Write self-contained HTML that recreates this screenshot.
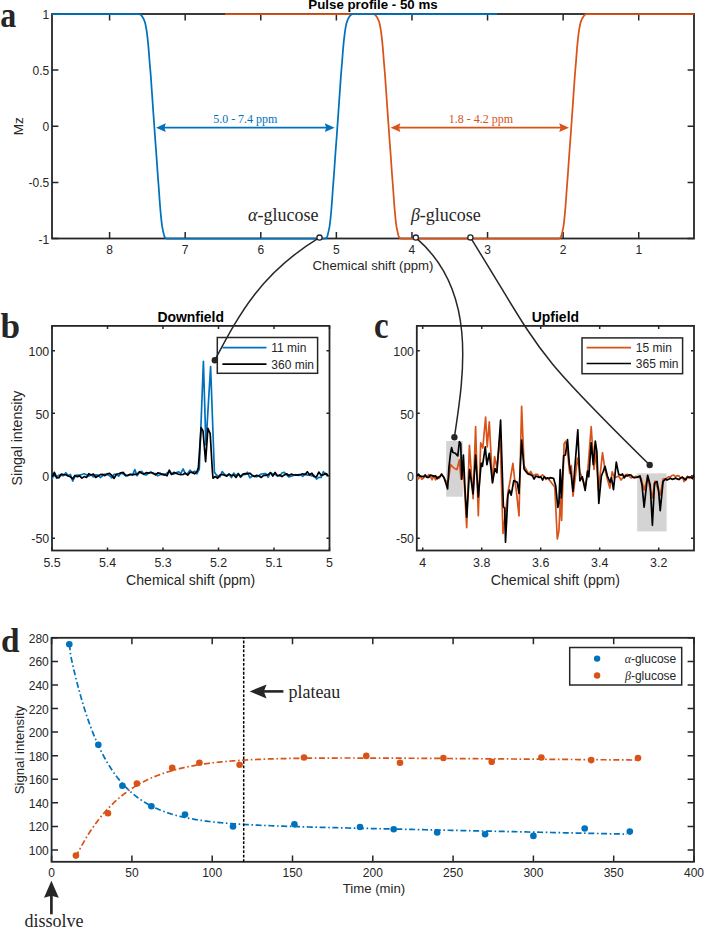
<!DOCTYPE html><html><head><meta charset="utf-8"><style>html,body{margin:0;padding:0;background:#fff;}svg{display:block;}</style></head><body>
<svg width="704" height="928" viewBox="0 0 704 928">
<rect width="704" height="928" fill="#fff"/>
<defs><clipPath id="ca"><rect x="52.0" y="12.0" width="642.0" height="228.5"/></clipPath></defs>
<path d="M109.60,238.50 V232.10 M109.60,14.00 V20.40 M185.19,238.50 V232.10 M185.19,14.00 V20.40 M260.78,238.50 V232.10 M260.78,14.00 V20.40 M336.37,238.50 V232.10 M336.37,14.00 V20.40 M411.96,238.50 V232.10 M411.96,14.00 V20.40 M487.55,238.50 V232.10 M487.55,14.00 V20.40 M563.14,238.50 V232.10 M563.14,14.00 V20.40 M638.73,238.50 V232.10 M638.73,14.00 V20.40 M52.00,14.00 H58.40 M694.00,14.00 H687.60 M52.00,70.12 H58.40 M694.00,70.12 H687.60 M52.00,126.25 H58.40 M694.00,126.25 H687.60 M52.00,182.38 H58.40 M694.00,182.38 H687.60 M52.00,238.50 H58.40 M694.00,238.50 H687.60" stroke="#262626" stroke-width="1.50" fill="none"/>
<rect x="52.00" y="14.00" width="642.00" height="224.50" fill="none" stroke="#262626" stroke-width="1.80"/>
<text x="109.60" y="253.80" font-size="12.00" text-anchor="middle" font-family='"Liberation Sans", sans-serif' font-weight="normal" font-style="normal" fill="#262626" >8</text>
<text x="185.19" y="253.80" font-size="12.00" text-anchor="middle" font-family='"Liberation Sans", sans-serif' font-weight="normal" font-style="normal" fill="#262626" >7</text>
<text x="260.78" y="253.80" font-size="12.00" text-anchor="middle" font-family='"Liberation Sans", sans-serif' font-weight="normal" font-style="normal" fill="#262626" >6</text>
<text x="336.37" y="253.80" font-size="12.00" text-anchor="middle" font-family='"Liberation Sans", sans-serif' font-weight="normal" font-style="normal" fill="#262626" >5</text>
<text x="411.96" y="253.80" font-size="12.00" text-anchor="middle" font-family='"Liberation Sans", sans-serif' font-weight="normal" font-style="normal" fill="#262626" >4</text>
<text x="487.55" y="253.80" font-size="12.00" text-anchor="middle" font-family='"Liberation Sans", sans-serif' font-weight="normal" font-style="normal" fill="#262626" >3</text>
<text x="563.14" y="253.80" font-size="12.00" text-anchor="middle" font-family='"Liberation Sans", sans-serif' font-weight="normal" font-style="normal" fill="#262626" >2</text>
<text x="638.73" y="253.80" font-size="12.00" text-anchor="middle" font-family='"Liberation Sans", sans-serif' font-weight="normal" font-style="normal" fill="#262626" >1</text>
<text x="49.20" y="19.04" font-size="12.00" text-anchor="end" font-family='"Liberation Sans", sans-serif' font-weight="normal" font-style="normal" fill="#262626" >1</text>
<text x="49.20" y="75.17" font-size="12.00" text-anchor="end" font-family='"Liberation Sans", sans-serif' font-weight="normal" font-style="normal" fill="#262626" >0.5</text>
<text x="49.20" y="131.29" font-size="12.00" text-anchor="end" font-family='"Liberation Sans", sans-serif' font-weight="normal" font-style="normal" fill="#262626" >0</text>
<text x="49.20" y="187.41" font-size="12.00" text-anchor="end" font-family='"Liberation Sans", sans-serif' font-weight="normal" font-style="normal" fill="#262626" >-0.5</text>
<text x="49.20" y="243.54" font-size="12.00" text-anchor="end" font-family='"Liberation Sans", sans-serif' font-weight="normal" font-style="normal" fill="#262626" >-1</text>
<polyline fill="none" stroke="#D95319" stroke-width="1.75" stroke-linejoin="round" points="225.00,14.00 225.50,14.00 226.00,14.00 226.50,14.00 227.00,14.00 227.50,14.00 228.00,14.00 228.50,14.00 229.00,14.00 229.50,14.00 230.00,14.00 230.50,14.00 231.00,14.00 231.50,14.00 232.00,14.00 232.50,14.00 233.00,14.00 233.50,14.00 234.00,14.00 234.50,14.00 235.00,14.00 235.50,14.00 236.00,14.00 236.50,14.00 237.00,14.00 237.50,14.00 238.00,14.00 238.50,14.00 239.00,14.00 239.50,14.00 240.00,14.00 240.50,14.00 241.00,14.00 241.50,14.00 242.00,14.00 242.50,14.00 243.00,14.00 243.50,14.00 244.00,14.00 244.50,14.00 245.00,14.00 245.50,14.00 246.00,14.00 246.50,14.00 247.00,14.00 247.50,14.00 248.00,14.00 248.50,14.00 249.00,14.00 249.50,14.00 250.00,14.00 250.50,14.00 251.00,14.00 251.50,14.00 252.00,14.00 252.50,14.00 253.00,14.00 253.50,14.00 254.00,14.00 254.50,14.00 255.00,14.00 255.50,14.00 256.00,14.00 256.50,14.00 257.00,14.00 257.50,14.00 258.00,14.00 258.50,14.00 259.00,14.00 259.50,14.00 260.00,14.00 260.50,14.00 261.00,14.00 261.50,14.00 262.00,14.00 262.50,14.00 263.00,14.00 263.50,14.00 264.00,14.00 264.50,14.00 265.00,14.00 265.50,14.00 266.00,14.00 266.50,14.00 267.00,14.00 267.50,14.00 268.00,14.00 268.50,14.00 269.00,14.00 269.50,14.00 270.00,14.00 270.50,14.00 271.00,14.00 271.50,14.00 272.00,14.00 272.50,14.00 273.00,14.00 273.50,14.00 274.00,14.00 274.50,14.00 275.00,14.00 275.50,14.00 276.00,14.00 276.50,14.00 277.00,14.00 277.50,14.00 278.00,14.00 278.50,14.00 279.00,14.00 279.50,14.00 280.00,14.00 280.50,14.00 281.00,14.00 281.50,14.00 282.00,14.00 282.50,14.00 283.00,14.00 283.50,14.00 284.00,14.00 284.50,14.00 285.00,14.00 285.50,14.00 286.00,14.00 286.50,14.00 287.00,14.00 287.50,14.00 288.00,14.00 288.50,14.00 289.00,14.00 289.50,14.00 290.00,14.00 290.50,14.00 291.00,14.00 291.50,14.00 292.00,14.00 292.50,14.00 293.00,14.00 293.50,14.00 294.00,14.00 294.50,14.00 295.00,14.00 295.50,14.00 296.00,14.00 296.50,14.00 297.00,14.00 297.50,14.00 298.00,14.00 298.50,14.00 299.00,14.00 299.50,14.00 300.00,14.00 300.50,14.00 301.00,14.00 301.50,14.00 302.00,14.00 302.50,14.00 303.00,14.00 303.50,14.00 304.00,14.00 304.50,14.00 305.00,14.00 305.50,14.00 306.00,14.00 306.50,14.00 307.00,14.00 307.50,14.00 308.00,14.00 308.50,14.00 309.00,14.00 309.50,14.00 310.00,14.00 310.50,14.00 311.00,14.00 311.50,14.00 312.00,14.00 312.50,14.00 313.00,14.00 313.50,14.00 314.00,14.00 314.50,14.00 315.00,14.00 315.50,14.00 316.00,14.00 316.50,14.00 317.00,14.00 317.50,14.00 318.00,14.00 318.50,14.00 319.00,14.00 319.50,14.00 320.00,14.00 320.50,14.00 321.00,14.00 321.50,14.00 322.00,14.00 322.50,14.00 323.00,14.00 323.50,14.00 324.00,14.00 324.50,14.00 325.00,14.00 325.50,14.00 326.00,14.00 326.50,14.00 327.00,14.00 327.50,14.00 328.00,14.00 328.50,14.00 329.00,14.00 329.50,14.00 330.00,14.00 330.50,14.00 331.00,14.00 331.50,14.00 332.00,14.00 332.50,14.00 333.00,14.00 333.50,14.00 334.00,14.00 334.50,14.00 335.00,14.00 335.50,14.00 336.00,14.00 336.50,14.00 337.00,14.00 337.50,14.00 338.00,14.00 338.50,14.00 339.00,14.00 339.50,14.00 340.00,14.00 340.50,14.00 341.00,14.00 341.50,14.00 342.00,14.00 342.50,14.00 343.00,14.00 343.50,14.00 344.00,14.00 344.50,14.00 345.00,14.00 345.50,14.00 346.00,14.00 346.50,14.00 347.00,14.00 347.50,14.00 348.00,14.00 348.50,14.00 349.00,14.00 349.50,14.00 350.00,14.00 350.50,14.00 351.00,14.00 351.50,14.00 352.00,14.00 352.50,14.00 353.00,14.00 353.50,14.00 354.00,14.00 354.50,14.00 355.00,14.00 355.50,14.00 356.00,14.00 356.50,14.00 357.00,14.00 357.50,14.00 358.00,14.00 358.50,14.00 359.00,14.00 359.50,14.00 360.00,14.00 360.50,14.00 361.00,14.00 361.50,14.00 362.00,14.00 362.50,14.00 363.00,14.00 363.50,14.00 364.00,14.00 364.50,14.00 365.00,14.00 365.50,14.00 366.00,14.00 366.50,14.00 367.00,14.00 367.50,14.00 368.00,14.00 368.50,14.00 369.00,14.00 369.50,14.00 370.00,14.00 370.50,14.00 371.00,14.00 371.50,14.00 372.00,14.00 372.50,14.00 373.00,14.00 373.50,14.05 374.00,14.22 374.50,14.45 375.00,14.77 375.50,15.25 376.00,15.86 376.50,16.56 377.00,17.33 377.50,18.15 378.00,19.11 378.50,20.26 379.00,21.61 379.50,23.22 380.00,25.44 380.50,28.19 381.00,31.31 381.50,35.07 382.00,39.43 382.50,44.42 383.00,49.97 383.50,56.54 384.00,63.03 384.50,68.75 385.00,74.73 385.50,81.82 386.00,89.19 386.50,96.35 387.00,103.55 387.50,110.81 388.00,117.92 388.50,124.88 389.00,132.24 389.50,139.28 390.00,145.72 390.50,152.33 391.00,159.51 391.50,166.75 392.00,173.98 392.50,180.69 393.00,187.02 393.50,194.00 394.00,201.35 394.50,207.75 395.00,213.52 395.50,218.57 396.00,223.10 396.50,226.66 397.00,229.35 397.50,231.61 398.00,233.72 398.50,235.74 399.00,237.04 399.50,237.70 400.00,238.20 400.50,238.47 401.00,238.50 401.50,238.50 402.00,238.50 402.50,238.50 403.00,238.50 403.50,238.50 404.00,238.50 404.50,238.50 405.00,238.50 405.50,238.50 406.00,238.50 406.50,238.50 407.00,238.50 407.50,238.50 408.00,238.50 408.50,238.50 409.00,238.50 409.50,238.50 410.00,238.50 410.50,238.50 411.00,238.50 411.50,238.50 412.00,238.50 412.50,238.50 413.00,238.50 413.50,238.50 414.00,238.50 414.50,238.50 415.00,238.50 415.50,238.50 416.00,238.50 416.50,238.50 417.00,238.50 417.50,238.50 418.00,238.50 418.50,238.50 419.00,238.50 419.50,238.50 420.00,238.50 420.50,238.50 421.00,238.50 421.50,238.50 422.00,238.50 422.50,238.50 423.00,238.50 423.50,238.50 424.00,238.50 424.50,238.50 425.00,238.50 425.50,238.50 426.00,238.50 426.50,238.50 427.00,238.50 427.50,238.50 428.00,238.50 428.50,238.50 429.00,238.50 429.50,238.50 430.00,238.50 430.50,238.50 431.00,238.50 431.50,238.50 432.00,238.50 432.50,238.50 433.00,238.50 433.50,238.50 434.00,238.50 434.50,238.50 435.00,238.50 435.50,238.50 436.00,238.50 436.50,238.50 437.00,238.50 437.50,238.50 438.00,238.50 438.50,238.50 439.00,238.50 439.50,238.50 440.00,238.50 440.50,238.50 441.00,238.50 441.50,238.50 442.00,238.50 442.50,238.50 443.00,238.50 443.50,238.50 444.00,238.50 444.50,238.50 445.00,238.50 445.50,238.50 446.00,238.50 446.50,238.50 447.00,238.50 447.50,238.50 448.00,238.50 448.50,238.50 449.00,238.50 449.50,238.50 450.00,238.50 450.50,238.50 451.00,238.50 451.50,238.50 452.00,238.50 452.50,238.50 453.00,238.50 453.50,238.50 454.00,238.50 454.50,238.50 455.00,238.50 455.50,238.50 456.00,238.50 456.50,238.50 457.00,238.50 457.50,238.50 458.00,238.50 458.50,238.50 459.00,238.50 459.50,238.50 460.00,238.50 460.50,238.50 461.00,238.50 461.50,238.50 462.00,238.50 462.50,238.50 463.00,238.50 463.50,238.50 464.00,238.50 464.50,238.50 465.00,238.50 465.50,238.50 466.00,238.50 466.50,238.50 467.00,238.50 467.50,238.50 468.00,238.50 468.50,238.50 469.00,238.50 469.50,238.50 470.00,238.50 470.50,238.50 471.00,238.50 471.50,238.50 472.00,238.50 472.50,238.50 473.00,238.50 473.50,238.50 474.00,238.50 474.50,238.50 475.00,238.50 475.50,238.50 476.00,238.50 476.50,238.50 477.00,238.50 477.50,238.50 478.00,238.50 478.50,238.50 479.00,238.50 479.50,238.50 480.00,238.50 480.50,238.50 481.00,238.50 481.50,238.50 482.00,238.50 482.50,238.50 483.00,238.50 483.50,238.50 484.00,238.50 484.50,238.50 485.00,238.50 485.50,238.50 486.00,238.50 486.50,238.50 487.00,238.50 487.50,238.50 488.00,238.50 488.50,238.50 489.00,238.50 489.50,238.50 490.00,238.50 490.50,238.50 491.00,238.50 491.50,238.50 492.00,238.50 492.50,238.50 493.00,238.50 493.50,238.50 494.00,238.50 494.50,238.50 495.00,238.50 495.50,238.50 496.00,238.50 496.50,238.50 497.00,238.50 497.50,238.50 498.00,238.50 498.50,238.50 499.00,238.50 499.50,238.50 500.00,238.50 500.50,238.50 501.00,238.50 501.50,238.50 502.00,238.50 502.50,238.50 503.00,238.50 503.50,238.50 504.00,238.50 504.50,238.50 505.00,238.50 505.50,238.50 506.00,238.50 506.50,238.50 507.00,238.50 507.50,238.50 508.00,238.50 508.50,238.50 509.00,238.50 509.50,238.50 510.00,238.50 510.50,238.50 511.00,238.50 511.50,238.50 512.00,238.50 512.50,238.50 513.00,238.50 513.50,238.50 514.00,238.50 514.50,238.50 515.00,238.50 515.50,238.50 516.00,238.50 516.50,238.50 517.00,238.50 517.50,238.50 518.00,238.50 518.50,238.50 519.00,238.50 519.50,238.50 520.00,238.50 520.50,238.50 521.00,238.50 521.50,238.50 522.00,238.50 522.50,238.50 523.00,238.50 523.50,238.50 524.00,238.50 524.50,238.50 525.00,238.50 525.50,238.50 526.00,238.50 526.50,238.50 527.00,238.50 527.50,238.50 528.00,238.50 528.50,238.50 529.00,238.50 529.50,238.50 530.00,238.50 530.50,238.50 531.00,238.50 531.50,238.50 532.00,238.50 532.50,238.50 533.00,238.50 533.50,238.50 534.00,238.50 534.50,238.50 535.00,238.50 535.50,238.50 536.00,238.50 536.50,238.50 537.00,238.50 537.50,238.50 538.00,238.50 538.50,238.50 539.00,238.50 539.50,238.50 540.00,238.50 540.50,238.50 541.00,238.50 541.50,238.50 542.00,238.50 542.50,238.50 543.00,238.50 543.50,238.50 544.00,238.50 544.50,238.50 545.00,238.50 545.50,238.50 546.00,238.50 546.50,238.50 547.00,238.50 547.50,238.50 548.00,238.50 548.50,238.50 549.00,238.50 549.50,238.50 550.00,238.50 550.50,238.50 551.00,238.50 551.50,238.50 552.00,238.50 552.50,238.50 553.00,238.50 553.50,238.50 554.00,238.50 554.50,238.50 555.00,238.50 555.50,238.50 556.00,238.50 556.50,238.50 557.00,238.50 557.50,238.50 558.00,238.50 558.50,238.50 559.00,238.50 559.50,238.44 560.00,238.12 560.50,237.58 561.00,236.87 561.50,235.37 562.00,233.28 562.50,231.18 563.00,228.86 563.50,226.04 564.00,222.26 564.50,217.59 565.00,212.43 565.50,206.52 566.00,199.95 566.50,192.52 567.00,185.73 567.50,179.41 568.00,172.56 568.50,165.30 569.00,158.05 569.50,150.94 570.00,144.45 570.50,137.92 571.00,130.77 571.50,123.49 572.00,116.51 572.50,109.37 573.00,102.10 573.50,94.92 574.00,87.75 574.50,80.34 575.00,73.45 575.50,67.62 576.00,61.82 576.50,55.18 577.00,48.80 577.50,43.37 578.00,38.50 578.50,34.27 579.00,30.64 579.50,27.61 580.00,24.94 580.50,22.87 581.00,21.32 581.50,20.01 582.00,18.91 582.50,17.98 583.00,17.17 583.50,16.41 584.00,15.73 584.50,15.15 585.00,14.70 585.50,14.40 586.00,14.18 586.50,14.03 587.00,14.00 587.50,14.00 588.00,14.00 588.50,14.00 589.00,14.00 589.50,14.00 590.00,14.00 590.50,14.00 591.00,14.00 591.50,14.00 592.00,14.00 592.50,14.00 593.00,14.00 593.50,14.00 594.00,14.00 594.50,14.00 595.00,14.00 595.50,14.00 596.00,14.00 596.50,14.00 597.00,14.00 597.50,14.00 598.00,14.00 598.50,14.00 599.00,14.00 599.50,14.00 600.00,14.00 600.50,14.00 601.00,14.00 601.50,14.00 602.00,14.00 602.50,14.00 603.00,14.00 603.50,14.00 604.00,14.00 604.50,14.00 605.00,14.00 605.50,14.00 606.00,14.00 606.50,14.00 607.00,14.00 607.50,14.00 608.00,14.00 608.50,14.00 609.00,14.00 609.50,14.00 610.00,14.00 610.50,14.00 611.00,14.00 611.50,14.00 612.00,14.00 612.50,14.00 613.00,14.00 613.50,14.00 614.00,14.00 614.50,14.00 615.00,14.00 615.50,14.00 616.00,14.00 616.50,14.00 617.00,14.00 617.50,14.00 618.00,14.00 618.50,14.00 619.00,14.00 619.50,14.00 620.00,14.00 620.50,14.00 621.00,14.00 621.50,14.00 622.00,14.00 622.50,14.00 623.00,14.00 623.50,14.00 624.00,14.00 624.50,14.00 625.00,14.00 625.50,14.00 626.00,14.00 626.50,14.00 627.00,14.00 627.50,14.00 628.00,14.00 628.50,14.00 629.00,14.00 629.50,14.00 630.00,14.00 630.50,14.00 631.00,14.00 631.50,14.00 632.00,14.00 632.50,14.00 633.00,14.00 633.50,14.00 634.00,14.00 634.50,14.00 635.00,14.00 635.50,14.00 636.00,14.00 636.50,14.00 637.00,14.00 637.50,14.00 638.00,14.00 638.50,14.00 639.00,14.00 639.50,14.00 640.00,14.00 640.50,14.00 641.00,14.00 641.50,14.00 642.00,14.00 642.50,14.00 643.00,14.00 643.50,14.00 644.00,14.00 644.50,14.00 645.00,14.00 645.50,14.00 646.00,14.00 646.50,14.00 647.00,14.00 647.50,14.00 648.00,14.00 648.50,14.00 649.00,14.00 649.50,14.00 650.00,14.00 650.50,14.00 651.00,14.00 651.50,14.00 652.00,14.00 652.50,14.00 653.00,14.00 653.50,14.00 654.00,14.00 654.50,14.00 655.00,14.00 655.50,14.00 656.00,14.00 656.50,14.00 657.00,14.00 657.50,14.00 658.00,14.00 658.50,14.00 659.00,14.00 659.50,14.00 660.00,14.00 660.50,14.00 661.00,14.00 661.50,14.00 662.00,14.00 662.50,14.00 663.00,14.00 663.50,14.00 664.00,14.00 664.50,14.00 665.00,14.00 665.50,14.00 666.00,14.00 666.50,14.00 667.00,14.00 667.50,14.00 668.00,14.00 668.50,14.00 669.00,14.00 669.50,14.00 670.00,14.00 670.50,14.00 671.00,14.00 671.50,14.00 672.00,14.00 672.50,14.00 673.00,14.00 673.50,14.00 674.00,14.00 674.50,14.00 675.00,14.00 675.50,14.00 676.00,14.00 676.50,14.00 677.00,14.00 677.50,14.00 678.00,14.00 678.50,14.00 679.00,14.00 679.50,14.00 680.00,14.00 680.50,14.00 681.00,14.00 681.50,14.00 682.00,14.00 682.50,14.00 683.00,14.00 683.50,14.00 684.00,14.00 684.50,14.00 685.00,14.00 685.50,14.00 686.00,14.00 686.50,14.00 687.00,14.00 687.50,14.00 688.00,14.00 688.50,14.00 689.00,14.00 689.50,14.00 690.00,14.00 690.50,14.00 691.00,14.00 691.50,14.00 692.00,14.00 692.50,14.00 693.00,14.00 693.50,14.00 694.00,14.00" clip-path="url(#ca)"/>
<polyline fill="none" stroke="#0072BD" stroke-width="1.75" stroke-linejoin="round" points="52.00,14.00 52.50,14.00 53.00,14.00 53.50,14.00 54.00,14.00 54.50,14.00 55.00,14.00 55.50,14.00 56.00,14.00 56.50,14.00 57.00,14.00 57.50,14.00 58.00,14.00 58.50,14.00 59.00,14.00 59.50,14.00 60.00,14.00 60.50,14.00 61.00,14.00 61.50,14.00 62.00,14.00 62.50,14.00 63.00,14.00 63.50,14.00 64.00,14.00 64.50,14.00 65.00,14.00 65.50,14.00 66.00,14.00 66.50,14.00 67.00,14.00 67.50,14.00 68.00,14.00 68.50,14.00 69.00,14.00 69.50,14.00 70.00,14.00 70.50,14.00 71.00,14.00 71.50,14.00 72.00,14.00 72.50,14.00 73.00,14.00 73.50,14.00 74.00,14.00 74.50,14.00 75.00,14.00 75.50,14.00 76.00,14.00 76.50,14.00 77.00,14.00 77.50,14.00 78.00,14.00 78.50,14.00 79.00,14.00 79.50,14.00 80.00,14.00 80.50,14.00 81.00,14.00 81.50,14.00 82.00,14.00 82.50,14.00 83.00,14.00 83.50,14.00 84.00,14.00 84.50,14.00 85.00,14.00 85.50,14.00 86.00,14.00 86.50,14.00 87.00,14.00 87.50,14.00 88.00,14.00 88.50,14.00 89.00,14.00 89.50,14.00 90.00,14.00 90.50,14.00 91.00,14.00 91.50,14.00 92.00,14.00 92.50,14.00 93.00,14.00 93.50,14.00 94.00,14.00 94.50,14.00 95.00,14.00 95.50,14.00 96.00,14.00 96.50,14.00 97.00,14.00 97.50,14.00 98.00,14.00 98.50,14.00 99.00,14.00 99.50,14.00 100.00,14.00 100.50,14.00 101.00,14.00 101.50,14.00 102.00,14.00 102.50,14.00 103.00,14.00 103.50,14.00 104.00,14.00 104.50,14.00 105.00,14.00 105.50,14.00 106.00,14.00 106.50,14.00 107.00,14.00 107.50,14.00 108.00,14.00 108.50,14.00 109.00,14.00 109.50,14.00 110.00,14.00 110.50,14.00 111.00,14.00 111.50,14.00 112.00,14.00 112.50,14.00 113.00,14.00 113.50,14.00 114.00,14.00 114.50,14.00 115.00,14.00 115.50,14.00 116.00,14.00 116.50,14.00 117.00,14.00 117.50,14.00 118.00,14.00 118.50,14.00 119.00,14.00 119.50,14.00 120.00,14.00 120.50,14.00 121.00,14.00 121.50,14.00 122.00,14.00 122.50,14.00 123.00,14.00 123.50,14.00 124.00,14.00 124.50,14.00 125.00,14.00 125.50,14.00 126.00,14.00 126.50,14.00 127.00,14.00 127.50,14.00 128.00,14.00 128.50,14.00 129.00,14.00 129.50,14.00 130.00,14.00 130.50,14.00 131.00,14.00 131.50,14.00 132.00,14.00 132.50,14.00 133.00,14.00 133.50,14.00 134.00,14.00 134.50,14.00 135.00,14.00 135.50,14.00 136.00,14.00 136.50,14.00 137.00,14.00 137.50,14.00 138.00,14.00 138.50,14.00 139.00,14.01 139.50,14.14 140.00,14.35 140.50,14.62 141.00,15.04 141.50,15.60 142.00,16.27 142.50,17.02 143.00,17.82 143.50,18.71 144.00,19.78 144.50,21.04 145.00,22.54 145.50,24.47 146.00,27.05 146.50,29.99 147.00,33.49 147.50,37.60 148.00,42.35 148.50,47.67 149.00,53.83 149.50,60.56 150.00,66.50 150.50,72.23 151.00,78.88 151.50,86.29 152.00,93.49 152.50,100.66 153.00,107.92 153.50,115.10 154.00,122.11 154.50,129.28 155.00,136.53 155.50,143.18 156.00,149.60 156.50,156.60 157.00,163.85 157.50,171.12 158.00,178.10 158.50,184.47 159.00,191.07 159.50,198.49 160.00,205.26 160.50,211.30 161.00,216.60 161.50,221.38 162.00,225.38 162.50,228.34 163.00,230.74 163.50,232.86 164.00,234.98 164.50,236.65 165.00,237.45 165.50,238.02 166.00,238.40 166.50,238.50 167.00,238.50 167.50,238.50 168.00,238.50 168.50,238.50 169.00,238.50 169.50,238.50 170.00,238.50 170.50,238.50 171.00,238.50 171.50,238.50 172.00,238.50 172.50,238.50 173.00,238.50 173.50,238.50 174.00,238.50 174.50,238.50 175.00,238.50 175.50,238.50 176.00,238.50 176.50,238.50 177.00,238.50 177.50,238.50 178.00,238.50 178.50,238.50 179.00,238.50 179.50,238.50 180.00,238.50 180.50,238.50 181.00,238.50 181.50,238.50 182.00,238.50 182.50,238.50 183.00,238.50 183.50,238.50 184.00,238.50 184.50,238.50 185.00,238.50 185.50,238.50 186.00,238.50 186.50,238.50 187.00,238.50 187.50,238.50 188.00,238.50 188.50,238.50 189.00,238.50 189.50,238.50 190.00,238.50 190.50,238.50 191.00,238.50 191.50,238.50 192.00,238.50 192.50,238.50 193.00,238.50 193.50,238.50 194.00,238.50 194.50,238.50 195.00,238.50 195.50,238.50 196.00,238.50 196.50,238.50 197.00,238.50 197.50,238.50 198.00,238.50 198.50,238.50 199.00,238.50 199.50,238.50 200.00,238.50 200.50,238.50 201.00,238.50 201.50,238.50 202.00,238.50 202.50,238.50 203.00,238.50 203.50,238.50 204.00,238.50 204.50,238.50 205.00,238.50 205.50,238.50 206.00,238.50 206.50,238.50 207.00,238.50 207.50,238.50 208.00,238.50 208.50,238.50 209.00,238.50 209.50,238.50 210.00,238.50 210.50,238.50 211.00,238.50 211.50,238.50 212.00,238.50 212.50,238.50 213.00,238.50 213.50,238.50 214.00,238.50 214.50,238.50 215.00,238.50 215.50,238.50 216.00,238.50 216.50,238.50 217.00,238.50 217.50,238.50 218.00,238.50 218.50,238.50 219.00,238.50 219.50,238.50 220.00,238.50 220.50,238.50 221.00,238.50 221.50,238.50 222.00,238.50 222.50,238.50 223.00,238.50 223.50,238.50 224.00,238.50 224.50,238.50 225.00,238.50 225.50,238.50 226.00,238.50 226.50,238.50 227.00,238.50 227.50,238.50 228.00,238.50 228.50,238.50 229.00,238.50 229.50,238.50 230.00,238.50 230.50,238.50 231.00,238.50 231.50,238.50 232.00,238.50 232.50,238.50 233.00,238.50 233.50,238.50 234.00,238.50 234.50,238.50 235.00,238.50 235.50,238.50 236.00,238.50 236.50,238.50 237.00,238.50 237.50,238.50 238.00,238.50 238.50,238.50 239.00,238.50 239.50,238.50 240.00,238.50 240.50,238.50 241.00,238.50 241.50,238.50 242.00,238.50 242.50,238.50 243.00,238.50 243.50,238.50 244.00,238.50 244.50,238.50 245.00,238.50 245.50,238.50 246.00,238.50 246.50,238.50 247.00,238.50 247.50,238.50 248.00,238.50 248.50,238.50 249.00,238.50 249.50,238.50 250.00,238.50 250.50,238.50 251.00,238.50 251.50,238.50 252.00,238.50 252.50,238.50 253.00,238.50 253.50,238.50 254.00,238.50 254.50,238.50 255.00,238.50 255.50,238.50 256.00,238.50 256.50,238.50 257.00,238.50 257.50,238.50 258.00,238.50 258.50,238.50 259.00,238.50 259.50,238.50 260.00,238.50 260.50,238.50 261.00,238.50 261.50,238.50 262.00,238.50 262.50,238.50 263.00,238.50 263.50,238.50 264.00,238.50 264.50,238.50 265.00,238.50 265.50,238.50 266.00,238.50 266.50,238.50 267.00,238.50 267.50,238.50 268.00,238.50 268.50,238.50 269.00,238.50 269.50,238.50 270.00,238.50 270.50,238.50 271.00,238.50 271.50,238.50 272.00,238.50 272.50,238.50 273.00,238.50 273.50,238.50 274.00,238.50 274.50,238.50 275.00,238.50 275.50,238.50 276.00,238.50 276.50,238.50 277.00,238.50 277.50,238.50 278.00,238.50 278.50,238.50 279.00,238.50 279.50,238.50 280.00,238.50 280.50,238.50 281.00,238.50 281.50,238.50 282.00,238.50 282.50,238.50 283.00,238.50 283.50,238.50 284.00,238.50 284.50,238.50 285.00,238.50 285.50,238.50 286.00,238.50 286.50,238.50 287.00,238.50 287.50,238.50 288.00,238.50 288.50,238.50 289.00,238.50 289.50,238.50 290.00,238.50 290.50,238.50 291.00,238.50 291.50,238.50 292.00,238.50 292.50,238.50 293.00,238.50 293.50,238.50 294.00,238.50 294.50,238.50 295.00,238.50 295.50,238.50 296.00,238.50 296.50,238.50 297.00,238.50 297.50,238.50 298.00,238.50 298.50,238.50 299.00,238.50 299.50,238.50 300.00,238.50 300.50,238.50 301.00,238.50 301.50,238.50 302.00,238.50 302.50,238.50 303.00,238.50 303.50,238.50 304.00,238.50 304.50,238.50 305.00,238.50 305.50,238.50 306.00,238.50 306.50,238.50 307.00,238.50 307.50,238.50 308.00,238.50 308.50,238.50 309.00,238.50 309.50,238.50 310.00,238.50 310.50,238.50 311.00,238.50 311.50,238.50 312.00,238.50 312.50,238.50 313.00,238.50 313.50,238.50 314.00,238.50 314.50,238.50 315.00,238.50 315.50,238.50 316.00,238.50 316.50,238.50 317.00,238.50 317.50,238.50 318.00,238.50 318.50,238.50 319.00,238.50 319.50,238.50 320.00,238.50 320.50,238.50 321.00,238.50 321.50,238.50 322.00,238.50 322.50,238.50 323.00,238.50 323.50,238.50 324.00,238.50 324.50,238.50 325.00,238.50 325.50,238.47 326.00,238.20 326.50,237.70 327.00,237.04 327.50,235.74 328.00,233.72 328.50,231.61 329.00,229.35 329.50,226.66 330.00,223.10 330.50,218.57 331.00,213.52 331.50,207.75 332.00,201.35 332.50,194.00 333.00,187.02 333.50,180.69 334.00,173.98 334.50,166.75 335.00,159.51 335.50,152.33 336.00,145.72 336.50,139.28 337.00,132.24 337.50,124.88 338.00,117.92 338.50,110.81 339.00,103.55 339.50,96.35 340.00,89.19 340.50,81.82 341.00,74.73 341.50,68.75 342.00,63.03 342.50,56.54 343.00,49.97 343.50,44.42 344.00,39.43 344.50,35.07 345.00,31.31 345.50,28.19 346.00,25.44 346.50,23.22 347.00,21.61 347.50,20.26 348.00,19.11 348.50,18.15 349.00,17.33 349.50,16.56 350.00,15.86 350.50,15.25 351.00,14.77 351.50,14.45 352.00,14.22 352.50,14.05 353.00,14.00 353.50,14.00 354.00,14.00 354.50,14.00 355.00,14.00 355.50,14.00 356.00,14.00 356.50,14.00 357.00,14.00 357.50,14.00 358.00,14.00 358.50,14.00 359.00,14.00 359.50,14.00 360.00,14.00 360.50,14.00 361.00,14.00 361.50,14.00 362.00,14.00 362.50,14.00 363.00,14.00 363.50,14.00 364.00,14.00 364.50,14.00 365.00,14.00 365.50,14.00 366.00,14.00 366.50,14.00 367.00,14.00 367.50,14.00 368.00,14.00 368.50,14.00 369.00,14.00 369.50,14.00 370.00,14.00 370.50,14.00 371.00,14.00 371.50,14.00 372.00,14.00 372.50,14.00 373.00,14.00 373.50,14.00 374.00,14.00 374.50,14.00 375.00,14.00 375.50,14.00 376.00,14.00 376.50,14.00 377.00,14.00 377.50,14.00 378.00,14.00 378.50,14.00 379.00,14.00 379.50,14.00 380.00,14.00 380.50,14.00 381.00,14.00 381.50,14.00 382.00,14.00 382.50,14.00 383.00,14.00 383.50,14.00 384.00,14.00 384.50,14.00 385.00,14.00 385.50,14.00 386.00,14.00 386.50,14.00 387.00,14.00 387.50,14.00 388.00,14.00 388.50,14.00 389.00,14.00 389.50,14.00 390.00,14.00 390.50,14.00 391.00,14.00 391.50,14.00 392.00,14.00 392.50,14.00 393.00,14.00 393.50,14.00 394.00,14.00 394.50,14.00 395.00,14.00 395.50,14.00 396.00,14.00 396.50,14.00 397.00,14.00 397.50,14.00 398.00,14.00 398.50,14.00 399.00,14.00 399.50,14.00 400.00,14.00 400.50,14.00 401.00,14.00 401.50,14.00 402.00,14.00 402.50,14.00 403.00,14.00 403.50,14.00 404.00,14.00 404.50,14.00 405.00,14.00 405.50,14.00 406.00,14.00 406.50,14.00 407.00,14.00 407.50,14.00 408.00,14.00 408.50,14.00 409.00,14.00 409.50,14.00 410.00,14.00 410.50,14.00 411.00,14.00 411.50,14.00 412.00,14.00 412.50,14.00 413.00,14.00 413.50,14.00 414.00,14.00 414.50,14.00 415.00,14.00 415.50,14.00 416.00,14.00 416.50,14.00 417.00,14.00 417.50,14.00 418.00,14.00 418.50,14.00 419.00,14.00 419.50,14.00 420.00,14.00 420.50,14.00 421.00,14.00 421.50,14.00 422.00,14.00 422.50,14.00 423.00,14.00 423.50,14.00 424.00,14.00 424.50,14.00 425.00,14.00 425.50,14.00 426.00,14.00 426.50,14.00 427.00,14.00 427.50,14.00 428.00,14.00 428.50,14.00 429.00,14.00 429.50,14.00 430.00,14.00 430.50,14.00 431.00,14.00 431.50,14.00 432.00,14.00 432.50,14.00 433.00,14.00 433.50,14.00 434.00,14.00 434.50,14.00 435.00,14.00 435.50,14.00 436.00,14.00 436.50,14.00 437.00,14.00 437.50,14.00 438.00,14.00 438.50,14.00 439.00,14.00 439.50,14.00 440.00,14.00 440.50,14.00 441.00,14.00 441.50,14.00 442.00,14.00 442.50,14.00 443.00,14.00 443.50,14.00 444.00,14.00 444.50,14.00 445.00,14.00 445.50,14.00 446.00,14.00 446.50,14.00 447.00,14.00 447.50,14.00 448.00,14.00 448.50,14.00 449.00,14.00 449.50,14.00 450.00,14.00 450.50,14.00 451.00,14.00 451.50,14.00 452.00,14.00 452.50,14.00 453.00,14.00 453.50,14.00 454.00,14.00 454.50,14.00 455.00,14.00 455.50,14.00 456.00,14.00 456.50,14.00 457.00,14.00 457.50,14.00 458.00,14.00 458.50,14.00 459.00,14.00 459.50,14.00 460.00,14.00 460.50,14.00 461.00,14.00 461.50,14.00 462.00,14.00 462.50,14.00 463.00,14.00 463.50,14.00 464.00,14.00 464.50,14.00 465.00,14.00 465.50,14.00 466.00,14.00 466.50,14.00 467.00,14.00 467.50,14.00 468.00,14.00 468.50,14.00 469.00,14.00 469.50,14.00 470.00,14.00 470.50,14.00 471.00,14.00 471.50,14.00 472.00,14.00 472.50,14.00 473.00,14.00 473.50,14.00 474.00,14.00 474.50,14.00 475.00,14.00 475.50,14.00 476.00,14.00 476.50,14.00 477.00,14.00 477.50,14.00 478.00,14.00 478.50,14.00 479.00,14.00 479.50,14.00 480.00,14.00 480.50,14.00 481.00,14.00 481.50,14.00 482.00,14.00 482.50,14.00 483.00,14.00 483.50,14.00 484.00,14.00 484.50,14.00 485.00,14.00 485.50,14.00 486.00,14.00 486.50,14.00 487.00,14.00 487.50,14.00 488.00,14.00 488.50,14.00 489.00,14.00 489.50,14.00 490.00,14.00 490.50,14.00 491.00,14.00 491.50,14.00 492.00,14.00 492.50,14.00 493.00,14.00 493.50,14.00 494.00,14.00 494.50,14.00 495.00,14.00 495.50,14.00 496.00,14.00 496.50,14.00 497.00,14.00" clip-path="url(#ca)"/>
<line x1="161.88" y1="127.70" x2="328.72" y2="127.70" stroke="#0072BD" stroke-width="1.7"/>
<path d="M156.00,127.70 L165.80,123.30 L164.40,127.70 L165.80,132.10 Z" fill="#0072BD"/>
<path d="M334.60,127.70 L324.80,123.30 L326.20,127.70 L324.80,132.10 Z" fill="#0072BD"/>
<line x1="396.48" y1="127.70" x2="563.12" y2="127.70" stroke="#D95319" stroke-width="1.7"/>
<path d="M390.60,127.70 L400.40,123.30 L399.00,127.70 L400.40,132.10 Z" fill="#D95319"/>
<path d="M569.00,127.70 L559.20,123.30 L560.60,127.70 L559.20,132.10 Z" fill="#D95319"/>
<text x="245.30" y="122.60" font-size="12.00" text-anchor="middle" font-family='"Liberation Serif", serif' font-weight="normal" font-style="normal" fill="#0072BD" >5.0 - 7.4 ppm</text>
<text x="481.00" y="122.60" font-size="12.00" text-anchor="middle" font-family='"Liberation Serif", serif' font-weight="normal" font-style="normal" fill="#D95319" >1.8 - 4.2 ppm</text>
<text x="373.00" y="9.30" font-size="13.30" text-anchor="middle" font-family='"Liberation Sans", sans-serif' font-weight="bold" font-style="normal" fill="#000000" >Pulse profile - 50 ms</text>
<text x="373.00" y="270.20" font-size="13.20" text-anchor="middle" font-family='"Liberation Sans", sans-serif' font-weight="normal" font-style="normal" fill="#262626" >Chemical shift (ppm)</text>
<text x="0.00" y="0.00" font-size="13.50" text-anchor="middle" font-family='"Liberation Sans", sans-serif' font-weight="normal" font-style="normal" fill="#262626" transform="translate(23.3,126.3) rotate(-90)">Mz</text>
<text x="248.1" y="220.5" font-size="18" font-family='"Liberation Serif", serif' fill="#262626"><tspan font-style="italic">&#945;</tspan>-glucose</text>
<text x="410.9" y="220.5" font-size="18" font-family='"Liberation Serif", serif' fill="#262626"><tspan font-style="italic">&#946;</tspan>-glucose</text>
<text x="0.00" y="0.00" font-size="34.00" text-anchor="start" font-family='"Liberation Serif", serif' font-weight="bold" font-style="normal" fill="#262626" transform="translate(0.2,27.1) scale(0.94,1.08)">a</text>
<path d="M52.00,550.50 V547.50 M52.00,325.90 V328.90 M107.50,550.50 V547.50 M107.50,325.90 V328.90 M163.00,550.50 V547.50 M163.00,325.90 V328.90 M218.50,550.50 V547.50 M218.50,325.90 V328.90 M274.00,550.50 V547.50 M274.00,325.90 V328.90 M329.50,550.50 V547.50 M329.50,325.90 V328.90 M52.00,350.85 H55.00 M329.50,350.85 H326.50 M52.00,413.30 H55.00 M329.50,413.30 H326.50 M52.00,475.75 H55.00 M329.50,475.75 H326.50 M52.00,538.20 H55.00 M329.50,538.20 H326.50" stroke="#262626" stroke-width="1.50" fill="none"/>
<rect x="52.00" y="325.90" width="277.50" height="224.60" fill="none" stroke="#262626" stroke-width="1.80"/>
<text x="52.00" y="566.70" font-size="12.40" text-anchor="middle" font-family='"Liberation Sans", sans-serif' font-weight="normal" font-style="normal" fill="#262626" >5.5</text>
<text x="107.50" y="566.70" font-size="12.40" text-anchor="middle" font-family='"Liberation Sans", sans-serif' font-weight="normal" font-style="normal" fill="#262626" >5.4</text>
<text x="163.00" y="566.70" font-size="12.40" text-anchor="middle" font-family='"Liberation Sans", sans-serif' font-weight="normal" font-style="normal" fill="#262626" >5.3</text>
<text x="218.50" y="566.70" font-size="12.40" text-anchor="middle" font-family='"Liberation Sans", sans-serif' font-weight="normal" font-style="normal" fill="#262626" >5.2</text>
<text x="274.00" y="566.70" font-size="12.40" text-anchor="middle" font-family='"Liberation Sans", sans-serif' font-weight="normal" font-style="normal" fill="#262626" >5.1</text>
<text x="329.50" y="566.70" font-size="12.40" text-anchor="middle" font-family='"Liberation Sans", sans-serif' font-weight="normal" font-style="normal" fill="#262626" >5</text>
<text x="49.20" y="356.06" font-size="12.40" text-anchor="end" font-family='"Liberation Sans", sans-serif' font-weight="normal" font-style="normal" fill="#262626" >100</text>
<text x="49.20" y="418.51" font-size="12.40" text-anchor="end" font-family='"Liberation Sans", sans-serif' font-weight="normal" font-style="normal" fill="#262626" >50</text>
<text x="49.20" y="480.96" font-size="12.40" text-anchor="end" font-family='"Liberation Sans", sans-serif' font-weight="normal" font-style="normal" fill="#262626" >0</text>
<text x="49.20" y="543.41" font-size="12.40" text-anchor="end" font-family='"Liberation Sans", sans-serif' font-weight="normal" font-style="normal" fill="#262626" >-50</text>
<defs><clipPath id="cb"><rect x="52.0" y="325.9" width="277.5" height="224.6"/></clipPath></defs>
<polyline fill="none" stroke="#0072BD" stroke-width="1.70" stroke-linejoin="round" points="52.00,479.57 54.30,472.15 56.60,476.85 58.90,475.21 61.20,475.34 63.50,475.66 65.80,472.71 68.10,475.51 70.40,474.44 72.70,481.08 75.00,476.07 77.30,475.08 79.60,475.14 81.90,474.46 84.20,473.78 86.50,474.78 88.80,476.12 91.10,474.91 93.40,476.76 95.70,474.85 98.00,475.15 100.30,477.53 102.60,475.87 104.90,474.13 107.20,474.58 109.50,475.68 111.80,477.85 114.10,474.27 116.40,474.25 118.70,476.18 121.00,473.10 123.30,473.99 125.60,475.81 127.90,475.27 130.20,474.43 132.50,475.30 134.80,469.64 137.10,475.74 139.40,472.51 141.70,471.32 144.00,474.37 146.30,474.99 148.60,473.10 150.90,472.03 153.20,473.73 155.50,473.55 157.80,475.82 160.10,474.71 162.40,473.76 164.70,475.17 167.00,473.00 169.30,471.79 171.60,474.15 173.90,474.09 176.20,472.75 178.50,471.78 180.80,473.34 183.10,468.93 185.40,473.96 187.70,473.59 190.00,470.12 192.30,472.78 194.60,471.08 196.90,473.77 199.20,469.25 199.30,469.00 203.40,361.30 205.90,445.00 210.60,366.60 214.40,472.00 215.30,473.54 217.60,476.14 219.90,476.85 222.20,471.55 224.50,474.20 226.80,475.52 229.10,474.03 231.40,477.55 233.70,473.09 236.00,475.57 238.30,473.32 240.60,477.25 242.90,474.97 245.20,474.40 247.50,472.25 249.80,477.69 252.10,476.20 254.40,476.21 256.70,476.82 259.00,475.56 261.30,473.98 263.60,473.72 265.90,473.72 268.20,477.19 270.50,472.66 272.80,474.05 275.10,474.49 277.40,475.36 279.70,475.92 282.00,473.00 284.30,472.23 286.60,474.99 288.90,476.94 291.20,476.21 293.50,475.35 295.80,474.49 298.10,475.47 300.40,474.61 302.70,476.31 305.00,473.73 307.30,475.21 309.60,474.82 311.90,475.87 314.20,475.36 316.50,479.08 318.80,477.40 321.10,477.39 323.40,471.74 325.70,474.46 328.00,474.03" clip-path="url(#cb)"/>
<polyline fill="none" stroke="#000000" stroke-width="1.70" stroke-linejoin="round" points="52.00,477.10 54.30,472.82 56.60,477.94 58.90,477.72 61.20,474.11 63.50,474.53 65.80,474.74 68.10,475.95 70.40,476.78 72.70,478.83 75.00,475.41 77.30,476.79 79.60,475.82 81.90,478.16 84.20,476.58 86.50,477.46 88.80,473.73 91.10,475.00 93.40,474.00 95.70,477.42 98.00,476.09 100.30,474.59 102.60,474.31 104.90,475.65 107.20,473.81 109.50,473.41 111.80,475.47 114.10,478.38 116.40,474.26 118.70,473.73 121.00,472.75 123.30,472.45 125.60,475.18 127.90,475.61 130.20,474.28 132.50,474.71 134.80,474.32 137.10,474.30 139.40,471.74 141.70,473.28 144.00,474.08 146.30,472.68 148.60,473.08 150.90,472.50 153.20,473.17 155.50,474.89 157.80,472.94 160.10,473.26 162.40,474.66 164.70,474.34 167.00,475.86 169.30,470.12 171.60,474.48 173.90,472.41 176.20,473.28 178.50,474.27 180.80,474.58 183.10,474.46 185.40,473.07 187.70,475.19 190.00,472.29 192.30,472.45 194.60,473.80 196.90,471.71 198.40,467.60 201.10,427.60 203.00,431.00 205.60,461.60 207.90,428.40 210.20,433.70 212.40,471.40 213.00,478.24 215.30,476.53 217.60,478.26 219.90,474.96 222.20,474.43 224.50,475.25 226.80,476.10 229.10,474.12 231.40,475.57 233.70,474.97 236.00,477.42 238.30,474.01 240.60,476.57 242.90,474.03 245.20,473.56 247.50,473.93 249.80,473.21 252.10,475.22 254.40,476.55 256.70,475.25 259.00,475.94 261.30,477.45 263.60,475.41 265.90,475.29 268.20,474.59 270.50,472.59 272.80,476.14 275.10,472.37 277.40,475.98 279.70,474.98 282.00,476.69 284.30,474.90 286.60,473.77 288.90,475.54 291.20,474.16 293.50,474.73 295.80,475.06 298.10,474.80 300.40,474.72 302.70,473.75 305.00,474.72 307.30,471.79 309.60,474.76 311.90,473.20 314.20,476.68 316.50,476.90 318.80,472.07 321.10,475.22 323.40,474.81 325.70,473.43 328.00,475.80" clip-path="url(#cb)"/>
<rect x="217.3" y="337.5" width="100.3" height="35.8" fill="#fff" stroke="#262626" stroke-width="1.5"/>
<line x1="222.4" y1="347.7" x2="266.5" y2="347.7" stroke="#0072BD" stroke-width="1.7"/>
<line x1="222.4" y1="364.2" x2="266.5" y2="364.2" stroke="#000000" stroke-width="1.7"/>
<text x="271.30" y="352.00" font-size="12.00" text-anchor="start" font-family='"Liberation Sans", sans-serif' font-weight="normal" font-style="normal" fill="#262626" >11 min</text>
<text x="271.30" y="368.50" font-size="12.00" text-anchor="start" font-family='"Liberation Sans", sans-serif' font-weight="normal" font-style="normal" fill="#262626" >360 min</text>
<text x="190.70" y="321.50" font-size="13.95" text-anchor="middle" font-family='"Liberation Sans", sans-serif' font-weight="bold" font-style="normal" fill="#000000" >Downfield</text>
<text x="190.70" y="585.20" font-size="14.10" text-anchor="middle" font-family='"Liberation Sans", sans-serif' font-weight="normal" font-style="normal" fill="#262626" >Chemical shift (ppm)</text>
<text x="0.00" y="0.00" font-size="14.10" text-anchor="middle" font-family='"Liberation Sans", sans-serif' font-weight="normal" font-style="normal" fill="#262626" transform="translate(22.2,438) rotate(-90)">Singal intensity</text>
<text x="0.00" y="0.00" font-size="34.00" text-anchor="start" font-family='"Liberation Serif", serif' font-weight="bold" font-style="normal" fill="#262626" transform="translate(0.5,338.3) scale(1.035,1.047)">b</text>
<rect x="446.2" y="441.0" width="16.6" height="55.7" fill="#d4d4d4"/>
<rect x="637.2" y="473.3" width="29.4" height="58.1" fill="#d4d4d4"/>
<path d="M422.70,550.50 V547.50 M422.70,325.90 V328.90 M481.70,550.50 V547.50 M481.70,325.90 V328.90 M540.70,550.50 V547.50 M540.70,325.90 V328.90 M599.70,550.50 V547.50 M599.70,325.90 V328.90 M658.70,550.50 V547.50 M658.70,325.90 V328.90 M416.80,350.85 H419.80 M694.00,350.85 H691.00 M416.80,413.30 H419.80 M694.00,413.30 H691.00 M416.80,475.75 H419.80 M694.00,475.75 H691.00 M416.80,538.20 H419.80 M694.00,538.20 H691.00" stroke="#262626" stroke-width="1.50" fill="none"/>
<rect x="416.80" y="325.90" width="277.20" height="224.60" fill="none" stroke="#262626" stroke-width="1.80"/>
<text x="422.70" y="566.70" font-size="12.40" text-anchor="middle" font-family='"Liberation Sans", sans-serif' font-weight="normal" font-style="normal" fill="#262626" >4</text>
<text x="481.70" y="566.70" font-size="12.40" text-anchor="middle" font-family='"Liberation Sans", sans-serif' font-weight="normal" font-style="normal" fill="#262626" >3.8</text>
<text x="540.70" y="566.70" font-size="12.40" text-anchor="middle" font-family='"Liberation Sans", sans-serif' font-weight="normal" font-style="normal" fill="#262626" >3.6</text>
<text x="599.70" y="566.70" font-size="12.40" text-anchor="middle" font-family='"Liberation Sans", sans-serif' font-weight="normal" font-style="normal" fill="#262626" >3.4</text>
<text x="658.70" y="566.70" font-size="12.40" text-anchor="middle" font-family='"Liberation Sans", sans-serif' font-weight="normal" font-style="normal" fill="#262626" >3.2</text>
<text x="414.00" y="356.06" font-size="12.40" text-anchor="end" font-family='"Liberation Sans", sans-serif' font-weight="normal" font-style="normal" fill="#262626" >100</text>
<text x="414.00" y="418.51" font-size="12.40" text-anchor="end" font-family='"Liberation Sans", sans-serif' font-weight="normal" font-style="normal" fill="#262626" >50</text>
<text x="414.00" y="480.96" font-size="12.40" text-anchor="end" font-family='"Liberation Sans", sans-serif' font-weight="normal" font-style="normal" fill="#262626" >0</text>
<text x="414.00" y="543.41" font-size="12.40" text-anchor="end" font-family='"Liberation Sans", sans-serif' font-weight="normal" font-style="normal" fill="#262626" >-50</text>
<defs><clipPath id="cc"><rect x="416.8" y="325.9" width="277.2" height="224.6"/></clipPath></defs>
<polyline fill="none" stroke="#D95319" stroke-width="1.70" stroke-linejoin="round" points="416.80,477.55 418.50,478.79 420.20,475.78 421.90,479.23 423.60,477.80 425.30,476.18 427.00,477.31 428.70,474.70 430.40,476.15 432.10,479.74 433.80,475.66 435.50,479.77 437.20,476.88 438.90,478.49 440.00,476.00 441.60,473.60 446.50,482.40 448.50,480.00 450.50,464.70 452.90,467.10 454.90,468.70 457.00,469.50 459.40,459.80 461.00,479.20 463.40,468.00 466.70,527.70 469.40,445.30 473.10,498.60 475.60,426.70 478.30,515.60 480.70,442.80 482.80,448.00 485.60,417.00 487.20,446.90 489.30,421.80 492.50,483.30 494.60,456.60 496.90,467.90 500.10,435.60 503.00,533.40 505.50,513.20 508.00,492.00 510.30,479.70 512.90,463.30 514.50,478.00 516.40,491.70 519.00,515.90 521.60,406.40 524.10,465.90 527.60,472.00 529.00,474.57 530.70,471.50 532.40,474.37 534.10,475.88 535.80,474.23 537.50,474.30 539.20,477.23 540.90,476.08 542.60,474.87 544.30,476.75 546.00,479.43 547.70,477.80 549.40,480.27 550.00,480.80 554.80,487.30 557.30,539.00 558.90,530.90 560.50,497.00 561.60,520.40 564.10,443.60 565.70,441.20 567.50,451.70 569.70,473.50 571.30,465.50 573.00,496.20 577.50,458.20 579.90,472.00 582.30,478.00 585.20,487.00 587.50,474.00 591.20,426.70 594.00,469.50 595.60,450.00 598.50,490.50 602.50,452.50 605.00,470.00 609.80,488.10 612.20,471.90 614.50,478.00 618.70,476.00 621.10,480.00 622.50,478.29 624.20,476.17 625.90,474.54 627.60,474.40 629.30,476.43 631.00,477.91 632.70,477.11 634.40,477.64 636.10,476.27 637.50,477.00 641.00,478.00 644.10,490.00 647.60,478.00 652.40,497.80 655.00,481.00 660.20,495.20 663.10,479.00 665.70,478.50 667.00,477.95 668.70,476.76 670.40,476.95 672.10,475.47 673.80,475.02 675.50,476.62 677.20,475.65 678.90,475.85 680.60,478.26 682.30,477.06 684.00,481.56 685.70,478.55 687.40,476.18 689.10,478.27 690.80,477.60 692.50,476.01 694.20,478.66" clip-path="url(#cc)"/>
<polyline fill="none" stroke="#000000" stroke-width="1.70" stroke-linejoin="round" points="416.80,475.90 418.50,474.20 420.20,476.15 421.90,476.31 423.60,476.64 425.30,474.90 427.00,477.30 428.70,477.46 430.40,475.01 432.10,475.64 433.80,476.40 435.50,475.76 437.20,478.77 438.90,476.77 440.00,476.80 441.60,474.40 444.00,477.60 446.10,484.10 447.60,488.90 448.90,467.90 450.50,453.30 451.60,447.70 452.90,452.50 455.40,453.30 457.80,455.80 459.40,441.70 460.70,443.60 461.80,479.20 463.40,455.00 465.10,490.50 466.70,517.20 469.60,469.50 473.10,493.80 475.60,455.00 478.30,497.00 481.20,463.00 482.40,466.30 485.30,446.90 486.90,464.70 489.30,453.30 492.50,482.40 495.00,468.70 496.90,472.70 500.60,420.20 503.40,506.70 504.70,508.30 505.50,542.30 507.90,495.40 509.50,490.00 511.20,495.20 513.80,480.50 517.20,482.20 519.00,493.40 521.60,440.00 524.10,469.30 527.60,473.60 529.00,474.19 530.70,474.68 532.40,475.83 534.10,479.09 535.80,476.08 537.50,476.68 539.20,477.38 540.90,476.86 542.60,480.08 544.30,476.63 546.00,478.49 547.70,477.93 549.40,478.74 550.00,477.60 553.60,478.40 555.70,485.70 557.80,507.50 558.90,503.40 560.20,469.50 561.30,497.80 563.70,455.80 565.40,455.00 567.50,439.60 569.40,464.70 571.00,473.50 573.00,491.30 577.80,429.90 579.90,480.80 582.30,476.80 585.20,490.50 587.50,471.10 588.80,476.80 591.20,442.80 593.30,464.70 595.30,441.20 596.90,451.70 598.80,503.40 601.40,476.00 603.00,472.00 605.00,466.30 607.40,476.00 610.10,482.40 611.40,477.60 613.50,489.70 616.30,462.20 618.70,474.40 621.10,475.20 622.50,473.97 624.20,477.92 625.90,475.58 627.60,475.90 629.30,474.75 631.00,475.14 632.70,476.94 634.40,477.60 636.10,477.42 637.50,477.10 640.00,476.00 642.00,485.00 644.10,507.20 646.00,490.00 647.60,475.30 650.20,485.00 652.40,525.30 654.50,483.10 657.00,481.40 658.50,490.00 660.20,510.70 663.10,481.40 665.70,478.80 667.00,480.07 668.70,479.34 670.40,478.35 672.10,479.31 673.80,478.90 675.50,477.91 677.20,478.89 678.90,479.52 680.60,478.06 682.30,477.20 684.00,478.51 685.70,479.95 687.40,477.11 689.10,477.17 690.80,477.02 692.50,478.70 694.20,474.63" clip-path="url(#cc)"/>
<rect x="582.0" y="337.9" width="100.6" height="35.8" fill="#fff" stroke="#262626" stroke-width="1.5"/>
<line x1="586.6" y1="347.6" x2="631.0" y2="347.6" stroke="#D95319" stroke-width="1.7"/>
<line x1="586.6" y1="363.5" x2="631.0" y2="363.5" stroke="#000000" stroke-width="1.7"/>
<text x="635.80" y="351.90" font-size="12.00" text-anchor="start" font-family='"Liberation Sans", sans-serif' font-weight="normal" font-style="normal" fill="#262626" >15 min</text>
<text x="635.80" y="367.80" font-size="12.00" text-anchor="start" font-family='"Liberation Sans", sans-serif' font-weight="normal" font-style="normal" fill="#262626" >365 min</text>
<text x="555.40" y="321.50" font-size="13.95" text-anchor="middle" font-family='"Liberation Sans", sans-serif' font-weight="bold" font-style="normal" fill="#000000" >Upfield</text>
<text x="555.40" y="585.20" font-size="14.10" text-anchor="middle" font-family='"Liberation Sans", sans-serif' font-weight="normal" font-style="normal" fill="#262626" >Chemical shift (ppm)</text>
<text x="0.00" y="0.00" font-size="34.00" text-anchor="start" font-family='"Liberation Serif", serif' font-weight="bold" font-style="normal" fill="#262626" transform="translate(373.9,338.1) scale(0.97,1.12)">c</text>
<path d="M319.3,237.6 C259.88,273.85 238.85,315.08 214.8,360.2" fill="none" stroke="#262626" stroke-width="1.5"/>
<path d="M415.8,237.6 C477.3,290.1 464.2,372.6 454.4,437.2" fill="none" stroke="#262626" stroke-width="1.5"/>
<path d="M470.4,237.4 C543.64,355.38 528.32,345.61 649.7,465.0" fill="none" stroke="#262626" stroke-width="1.5"/>
<circle cx="319.5" cy="237.6" r="2.6" fill="#fff" stroke="#262626" stroke-width="1.3"/>
<circle cx="415.8" cy="237.6" r="2.6" fill="#fff" stroke="#262626" stroke-width="1.3"/>
<circle cx="470.4" cy="237.4" r="2.6" fill="#fff" stroke="#262626" stroke-width="1.3"/>
<circle cx="214.8" cy="360.2" r="3.2" fill="#262626"/>
<circle cx="454.4" cy="437.2" r="3.2" fill="#262626"/>
<circle cx="649.7" cy="465.0" r="3.2" fill="#262626"/>
<path d="M51.60,861.80 V855.40 M51.60,637.80 V644.20 M131.90,861.80 V855.40 M131.90,637.80 V644.20 M212.20,861.80 V855.40 M212.20,637.80 V644.20 M292.50,861.80 V855.40 M292.50,637.80 V644.20 M372.80,861.80 V855.40 M372.80,637.80 V644.20 M453.10,861.80 V855.40 M453.10,637.80 V644.20 M533.40,861.80 V855.40 M533.40,637.80 V644.20 M613.70,861.80 V855.40 M613.70,637.80 V644.20 M694.00,861.80 V855.40 M694.00,637.80 V644.20 M51.60,850.01 H58.00 M694.00,850.01 H687.60 M51.60,826.43 H58.00 M694.00,826.43 H687.60 M51.60,802.85 H58.00 M694.00,802.85 H687.60 M51.60,779.27 H58.00 M694.00,779.27 H687.60 M51.60,755.69 H58.00 M694.00,755.69 H687.60 M51.60,732.12 H58.00 M694.00,732.12 H687.60 M51.60,708.54 H58.00 M694.00,708.54 H687.60 M51.60,684.96 H58.00 M694.00,684.96 H687.60 M51.60,661.38 H58.00 M694.00,661.38 H687.60 M51.60,637.80 H58.00 M694.00,637.80 H687.60" stroke="#262626" stroke-width="1.50" fill="none"/>
<rect x="51.60" y="637.80" width="642.40" height="224.00" fill="none" stroke="#262626" stroke-width="1.80"/>
<text x="51.60" y="877.10" font-size="12.00" text-anchor="middle" font-family='"Liberation Sans", sans-serif' font-weight="normal" font-style="normal" fill="#262626" >0</text>
<text x="131.90" y="877.10" font-size="12.00" text-anchor="middle" font-family='"Liberation Sans", sans-serif' font-weight="normal" font-style="normal" fill="#262626" >50</text>
<text x="212.20" y="877.10" font-size="12.00" text-anchor="middle" font-family='"Liberation Sans", sans-serif' font-weight="normal" font-style="normal" fill="#262626" >100</text>
<text x="292.50" y="877.10" font-size="12.00" text-anchor="middle" font-family='"Liberation Sans", sans-serif' font-weight="normal" font-style="normal" fill="#262626" >150</text>
<text x="372.80" y="877.10" font-size="12.00" text-anchor="middle" font-family='"Liberation Sans", sans-serif' font-weight="normal" font-style="normal" fill="#262626" >200</text>
<text x="453.10" y="877.10" font-size="12.00" text-anchor="middle" font-family='"Liberation Sans", sans-serif' font-weight="normal" font-style="normal" fill="#262626" >250</text>
<text x="533.40" y="877.10" font-size="12.00" text-anchor="middle" font-family='"Liberation Sans", sans-serif' font-weight="normal" font-style="normal" fill="#262626" >300</text>
<text x="613.70" y="877.10" font-size="12.00" text-anchor="middle" font-family='"Liberation Sans", sans-serif' font-weight="normal" font-style="normal" fill="#262626" >350</text>
<text x="694.00" y="877.10" font-size="12.00" text-anchor="middle" font-family='"Liberation Sans", sans-serif' font-weight="normal" font-style="normal" fill="#262626" >400</text>
<text x="48.80" y="855.05" font-size="12.00" text-anchor="end" font-family='"Liberation Sans", sans-serif' font-weight="normal" font-style="normal" fill="#262626" >100</text>
<text x="48.80" y="831.47" font-size="12.00" text-anchor="end" font-family='"Liberation Sans", sans-serif' font-weight="normal" font-style="normal" fill="#262626" >120</text>
<text x="48.80" y="807.89" font-size="12.00" text-anchor="end" font-family='"Liberation Sans", sans-serif' font-weight="normal" font-style="normal" fill="#262626" >140</text>
<text x="48.80" y="784.31" font-size="12.00" text-anchor="end" font-family='"Liberation Sans", sans-serif' font-weight="normal" font-style="normal" fill="#262626" >160</text>
<text x="48.80" y="760.73" font-size="12.00" text-anchor="end" font-family='"Liberation Sans", sans-serif' font-weight="normal" font-style="normal" fill="#262626" >180</text>
<text x="48.80" y="737.16" font-size="12.00" text-anchor="end" font-family='"Liberation Sans", sans-serif' font-weight="normal" font-style="normal" fill="#262626" >200</text>
<text x="48.80" y="713.58" font-size="12.00" text-anchor="end" font-family='"Liberation Sans", sans-serif' font-weight="normal" font-style="normal" fill="#262626" >220</text>
<text x="48.80" y="690.00" font-size="12.00" text-anchor="end" font-family='"Liberation Sans", sans-serif' font-weight="normal" font-style="normal" fill="#262626" >240</text>
<text x="48.80" y="666.42" font-size="12.00" text-anchor="end" font-family='"Liberation Sans", sans-serif' font-weight="normal" font-style="normal" fill="#262626" >260</text>
<text x="48.80" y="642.84" font-size="12.00" text-anchor="end" font-family='"Liberation Sans", sans-serif' font-weight="normal" font-style="normal" fill="#262626" >280</text>
<path d="M69.50,644.30 L70.62,655.29 L71.73,660.42 L72.85,665.38 L73.97,670.19 L75.09,674.85 L76.20,679.37 L77.32,683.75 L78.44,688.00 L79.56,692.13 L80.67,696.12 L81.79,700.00 L82.91,703.75 L84.02,707.40 L85.14,710.93 L86.26,714.35 L87.38,717.68 L88.49,720.90 L89.61,724.02 L90.73,727.05 L91.84,729.99 L92.96,732.84 L94.08,735.60 L95.20,738.28 L96.31,740.87 L97.43,743.39 L98.55,745.83 L99.67,748.20 L100.78,750.50 L101.90,752.73 L103.02,754.89 L104.13,756.98 L105.25,759.02 L106.37,760.99 L107.49,762.90 L108.60,764.75 L109.72,766.55 L110.84,768.29 L111.95,769.99 L113.07,771.63 L114.19,773.22 L115.31,774.76 L116.42,776.26 L117.54,777.71 L118.66,779.12 L119.78,780.48 L120.89,781.81 L122.01,783.09 L123.13,784.34 L124.24,785.55 L125.36,786.72 L126.48,787.86 L127.60,788.97 L128.71,790.04 L129.83,791.08 L130.95,792.09 L132.07,793.06 L133.18,794.01 L134.30,794.93 L135.42,795.83 L136.53,796.69 L137.65,797.54 L138.77,798.35 L139.89,799.14 L141.00,799.91 L142.12,800.66 L143.24,801.38 L144.35,802.09 L145.47,802.77 L146.59,803.43 L147.71,804.07 L148.82,804.70 L149.94,805.30 L151.06,805.89 L152.18,806.46 L153.29,807.01 L154.41,807.55 L155.53,808.07 L156.64,808.58 L157.76,809.07 L158.88,809.55 L160.00,810.01 L161.11,810.46 L162.23,810.90 L163.35,811.32 L164.46,811.74 L165.58,812.14 L166.70,812.53 L167.82,812.90 L168.93,813.27 L170.05,813.63 L171.17,813.97 L172.29,814.31 L173.40,814.64 L174.52,814.96 L175.64,815.27 L176.75,815.57 L177.87,815.86 L178.99,816.14 L180.11,816.42 L181.22,816.69 L182.34,816.95 L183.46,817.20 L184.58,817.45 L185.69,817.69 L186.81,817.92 L187.93,818.15 L189.04,818.37 L190.16,818.58 L191.28,818.79 L192.40,818.99 L193.51,819.19 L194.63,819.38 L195.75,819.57 L196.86,819.75 L197.98,819.93 L199.10,820.10 L200.22,820.27 L201.33,820.43 L202.45,820.59 L203.57,820.75 L204.69,820.90 L205.80,821.05 L206.92,821.19 L208.04,821.33 L209.15,821.47 L210.27,821.60 L211.39,821.73 L212.51,821.86 L213.62,821.98 L214.74,822.10 L215.86,822.22 L216.97,822.34 L218.09,822.45 L219.21,822.56 L220.33,822.66 L221.44,822.77 L222.56,822.87 L223.68,822.97 L224.80,823.07 L225.91,823.16 L227.03,823.25 L228.15,823.34 L229.26,823.43 L230.38,823.52 L231.50,823.60 L232.62,823.69 L233.73,823.77 L234.85,823.85 L235.97,823.93 L237.09,824.00 L238.20,824.08 L239.32,824.15 L240.44,824.22 L241.55,824.29 L242.67,824.36 L243.79,824.43 L244.91,824.49 L246.02,824.56 L247.14,824.62 L248.26,824.68 L249.37,824.74 L250.49,824.80 L251.61,824.86 L252.73,824.92 L253.84,824.98 L254.96,825.03 L256.08,825.09 L257.20,825.14 L258.31,825.20 L259.43,825.25 L260.55,825.30 L261.66,825.35 L262.78,825.40 L263.90,825.45 L265.02,825.50 L266.13,825.54 L267.25,825.59 L268.37,825.64 L269.48,825.68 L270.60,825.73 L271.72,825.77 L272.84,825.81 L273.95,825.86 L275.07,825.90 L276.19,825.94 L277.31,825.98 L278.42,826.02 L279.54,826.06 L280.66,826.10 L281.77,826.14 L282.89,826.18 L284.01,826.22 L285.13,826.26 L286.24,826.30 L287.36,826.33 L288.48,826.37 L289.60,826.41 L290.71,826.44 L291.83,826.48 L292.95,826.51 L294.06,826.55 L295.18,826.58 L296.30,826.62 L297.42,826.65 L298.53,826.69 L299.65,826.72 L300.77,826.75 L301.88,826.79 L303.00,826.82 L304.12,826.85 L305.24,826.88 L306.35,826.91 L307.47,826.95 L308.59,826.98 L309.71,827.01 L310.82,827.04 L311.94,827.07 L313.06,827.10 L314.17,827.13 L315.29,827.16 L316.41,827.19 L317.53,827.22 L318.64,827.25 L319.76,827.28 L320.88,827.31 L321.99,827.34 L323.11,827.37 L324.23,827.40 L325.35,827.43 L326.46,827.46 L327.58,827.48 L328.70,827.51 L329.82,827.54 L330.93,827.57 L332.05,827.60 L333.17,827.62 L334.28,827.65 L335.40,827.68 L336.52,827.71 L337.64,827.74 L338.75,827.76 L339.87,827.79 L340.99,827.82 L342.11,827.84 L343.22,827.87 L344.34,827.90 L345.46,827.93 L346.57,827.95 L347.69,827.98 L348.81,828.01 L349.93,828.03 L351.04,828.06 L352.16,828.09 L353.28,828.11 L354.39,828.14 L355.51,828.16 L356.63,828.19 L357.75,828.22 L358.86,828.24 L359.98,828.27 L361.10,828.30 L362.22,828.32 L363.33,828.35 L364.45,828.37 L365.57,828.40 L366.68,828.42 L367.80,828.45 L368.92,828.48 L370.04,828.50 L371.15,828.53 L372.27,828.55 L373.39,828.58 L374.51,828.60 L375.62,828.63 L376.74,828.65 L377.86,828.68 L378.97,828.71 L380.09,828.73 L381.21,828.76 L382.33,828.78 L383.44,828.81 L384.56,828.83 L385.68,828.86 L386.79,828.88 L387.91,828.91 L389.03,828.93 L390.15,828.96 L391.26,828.98 L392.38,829.01 L393.50,829.03 L394.62,829.06 L395.73,829.08 L396.85,829.11 L397.97,829.13 L399.08,829.16 L400.20,829.18 L401.32,829.21 L402.44,829.23 L403.55,829.26 L404.67,829.28 L405.79,829.31 L406.90,829.33 L408.02,829.36 L409.14,829.38 L410.26,829.41 L411.37,829.43 L412.49,829.46 L413.61,829.48 L414.73,829.51 L415.84,829.53 L416.96,829.55 L418.08,829.58 L419.19,829.60 L420.31,829.63 L421.43,829.65 L422.55,829.68 L423.66,829.70 L424.78,829.73 L425.90,829.75 L427.02,829.78 L428.13,829.80 L429.25,829.83 L430.37,829.85 L431.48,829.87 L432.60,829.90 L433.72,829.92 L434.84,829.95 L435.95,829.97 L437.07,830.00 L438.19,830.02 L439.30,830.05 L440.42,830.07 L441.54,830.10 L442.66,830.12 L443.77,830.14 L444.89,830.17 L446.01,830.19 L447.13,830.22 L448.24,830.24 L449.36,830.27 L450.48,830.29 L451.59,830.32 L452.71,830.34 L453.83,830.37 L454.95,830.39 L456.06,830.41 L457.18,830.44 L458.30,830.46 L459.41,830.49 L460.53,830.51 L461.65,830.54 L462.77,830.56 L463.88,830.59 L465.00,830.61 L466.12,830.63 L467.24,830.66 L468.35,830.68 L469.47,830.71 L470.59,830.73 L471.70,830.76 L472.82,830.78 L473.94,830.81 L475.06,830.83 L476.17,830.85 L477.29,830.88 L478.41,830.90 L479.53,830.93 L480.64,830.95 L481.76,830.98 L482.88,831.00 L483.99,831.03 L485.11,831.05 L486.23,831.07 L487.35,831.10 L488.46,831.12 L489.58,831.15 L490.70,831.17 L491.81,831.20 L492.93,831.22 L494.05,831.24 L495.17,831.27 L496.28,831.29 L497.40,831.32 L498.52,831.34 L499.64,831.37 L500.75,831.39 L501.87,831.42 L502.99,831.44 L504.10,831.46 L505.22,831.49 L506.34,831.51 L507.46,831.54 L508.57,831.56 L509.69,831.59 L510.81,831.61 L511.92,831.64 L513.04,831.66 L514.16,831.68 L515.28,831.71 L516.39,831.73 L517.51,831.76 L518.63,831.78 L519.75,831.81 L520.86,831.83 L521.98,831.85 L523.10,831.88 L524.21,831.90 L525.33,831.93 L526.45,831.95 L527.57,831.98 L528.68,832.00 L529.80,832.03 L530.92,832.05 L532.04,832.07 L533.15,832.10 L534.27,832.12 L535.39,832.15 L536.50,832.17 L537.62,832.20 L538.74,832.22 L539.86,832.24 L540.97,832.27 L542.09,832.29 L543.21,832.32 L544.32,832.34 L545.44,832.37 L546.56,832.39 L547.68,832.41 L548.79,832.44 L549.91,832.46 L551.03,832.49 L552.15,832.51 L553.26,832.54 L554.38,832.56 L555.50,832.59 L556.61,832.61 L557.73,832.63 L558.85,832.66 L559.97,832.68 L561.08,832.71 L562.20,832.73 L563.32,832.76 L564.43,832.78 L565.55,832.80 L566.67,832.83 L567.79,832.85 L568.90,832.88 L570.02,832.90 L571.14,832.93 L572.26,832.95 L573.37,832.98 L574.49,833.00 L575.61,833.02 L576.72,833.05 L577.84,833.07 L578.96,833.10 L580.08,833.12 L581.19,833.15 L582.31,833.17 L583.43,833.19 L584.55,833.22 L585.66,833.24 L586.78,833.27 L587.90,833.29 L589.01,833.32 L590.13,833.34 L591.25,833.37 L592.37,833.39 L593.48,833.41 L594.60,833.44 L595.72,833.46 L596.83,833.49 L597.95,833.51 L599.07,833.54 L600.19,833.56 L601.30,833.58 L602.42,833.61 L603.54,833.63 L604.66,833.66 L605.77,833.68 L606.89,833.71 L608.01,833.73 L609.12,833.75 L610.24,833.78 L611.36,833.80 L612.48,833.83 L613.59,833.85 L614.71,833.88 L615.83,833.90 L616.94,833.93 L618.06,833.95 L619.18,833.97 L620.30,834.00 L621.41,834.02 L622.53,834.05 L623.65,834.07 L624.77,834.10 L625.88,834.12 L627.00,834.14" fill="none" stroke="#0072BD" stroke-width="1.7" stroke-dasharray="6,2.6,1.6,2.6"/>
<path d="M75.80,856.99 L76.93,854.71 L78.05,852.48 L79.18,850.30 L80.31,848.17 L81.43,846.08 L82.56,844.05 L83.69,842.06 L84.81,840.12 L85.94,838.22 L87.07,836.36 L88.19,834.55 L89.32,832.77 L90.45,831.04 L91.57,829.34 L92.70,827.69 L93.83,826.07 L94.95,824.49 L96.08,822.94 L97.21,821.43 L98.33,819.96 L99.46,818.51 L100.59,817.10 L101.71,815.73 L102.84,814.38 L103.97,813.06 L105.09,811.78 L106.22,810.52 L107.35,809.29 L108.47,808.09 L109.60,806.92 L110.73,805.77 L111.85,804.65 L112.98,803.55 L114.11,802.48 L115.23,801.44 L116.36,800.41 L117.49,799.41 L118.61,798.44 L119.74,797.48 L120.87,796.55 L121.99,795.64 L123.12,794.75 L124.25,793.88 L125.37,793.03 L126.50,792.20 L127.63,791.39 L128.75,790.59 L129.88,789.82 L131.01,789.06 L132.13,788.32 L133.26,787.60 L134.39,786.89 L135.51,786.20 L136.64,785.52 L137.77,784.86 L138.89,784.22 L140.02,783.59 L141.15,782.97 L142.27,782.37 L143.40,781.78 L144.53,781.21 L145.65,780.65 L146.78,780.10 L147.91,779.57 L149.03,779.04 L150.16,778.53 L151.29,778.03 L152.41,777.54 L153.54,777.07 L154.67,776.60 L155.79,776.15 L156.92,775.70 L158.05,775.27 L159.17,774.84 L160.30,774.43 L161.43,774.02 L162.55,773.63 L163.68,773.24 L164.81,772.86 L165.93,772.49 L167.06,772.13 L168.19,771.78 L169.31,771.44 L170.44,771.10 L171.57,770.77 L172.69,770.45 L173.82,770.14 L174.95,769.83 L176.07,769.53 L177.20,769.24 L178.33,768.96 L179.45,768.68 L180.58,768.41 L181.71,768.14 L182.83,767.88 L183.96,767.63 L185.09,767.38 L186.21,767.14 L187.34,766.90 L188.47,766.67 L189.59,766.45 L190.72,766.23 L191.85,766.01 L192.97,765.80 L194.10,765.60 L195.23,765.40 L196.35,765.20 L197.48,765.01 L198.61,764.83 L199.73,764.65 L200.86,764.47 L201.99,764.30 L203.11,764.13 L204.24,763.96 L205.37,763.80 L206.49,763.64 L207.62,763.49 L208.75,763.34 L209.87,763.19 L211.00,763.05 L212.13,762.91 L213.25,762.78 L214.38,762.64 L215.51,762.51 L216.63,762.39 L217.76,762.26 L218.88,762.14 L220.01,762.03 L221.14,761.91 L222.26,761.80 L223.39,761.69 L224.52,761.59 L225.64,761.48 L226.77,761.38 L227.90,761.28 L229.02,761.19 L230.15,761.09 L231.28,761.00 L232.40,760.91 L233.53,760.83 L234.66,760.74 L235.78,760.66 L236.91,760.58 L238.04,760.50 L239.16,760.42 L240.29,760.35 L241.42,760.27 L242.54,760.20 L243.67,760.14 L244.80,760.07 L245.92,760.00 L247.05,759.94 L248.18,759.88 L249.30,759.82 L250.43,759.76 L251.56,759.70 L252.68,759.64 L253.81,759.59 L254.94,759.54 L256.06,759.48 L257.19,759.43 L258.32,759.38 L259.44,759.34 L260.57,759.29 L261.70,759.25 L262.82,759.20 L263.95,759.16 L265.08,759.12 L266.20,759.08 L267.33,759.04 L268.46,759.00 L269.58,758.96 L270.71,758.93 L271.84,758.89 L272.96,758.86 L274.09,758.83 L275.22,758.79 L276.34,758.76 L277.47,758.73 L278.60,758.70 L279.72,758.67 L280.85,758.65 L281.98,758.62 L283.10,758.59 L284.23,758.57 L285.36,758.54 L286.48,758.52 L287.61,758.50 L288.74,758.48 L289.86,758.45 L290.99,758.43 L292.12,758.41 L293.24,758.39 L294.37,758.38 L295.50,758.36 L296.62,758.34 L297.75,758.32 L298.88,758.31 L300.00,758.29 L301.13,758.28 L302.26,758.26 L303.38,758.25 L304.51,758.23 L305.64,758.22 L306.76,758.21 L307.89,758.20 L309.02,758.19 L310.14,758.17 L311.27,758.16 L312.40,758.15 L313.52,758.14 L314.65,758.14 L315.78,758.13 L316.90,758.12 L318.03,758.11 L319.16,758.10 L320.28,758.10 L321.41,758.09 L322.54,758.08 L323.66,758.08 L324.79,758.07 L325.92,758.06 L327.04,758.06 L328.17,758.06 L329.30,758.05 L330.42,758.05 L331.55,758.04 L332.68,758.04 L333.80,758.04 L334.93,758.03 L336.06,758.03 L337.18,758.03 L338.31,758.03 L339.44,758.02 L340.56,758.02 L341.69,758.02 L342.82,758.02 L343.94,758.02 L345.07,758.02 L346.20,758.02 L347.32,758.02 L348.45,758.02 L349.58,758.02 L350.70,758.02 L351.83,758.02 L352.96,758.02 L354.08,758.02 L355.21,758.02 L356.34,758.02 L357.46,758.03 L358.59,758.03 L359.72,758.03 L360.84,758.03 L361.97,758.03 L363.10,758.04 L364.22,758.04 L365.35,758.04 L366.48,758.04 L367.60,758.05 L368.73,758.05 L369.86,758.05 L370.98,758.06 L372.11,758.06 L373.24,758.06 L374.36,758.07 L375.49,758.07 L376.62,758.08 L377.74,758.08 L378.87,758.09 L380.00,758.09 L381.12,758.09 L382.25,758.10 L383.38,758.10 L384.50,758.11 L385.63,758.11 L386.76,758.12 L387.88,758.12 L389.01,758.13 L390.14,758.14 L391.26,758.14 L392.39,758.15 L393.52,758.15 L394.64,758.16 L395.77,758.16 L396.90,758.17 L398.02,758.18 L399.15,758.18 L400.28,758.19 L401.40,758.19 L402.53,758.20 L403.66,758.21 L404.78,758.21 L405.91,758.22 L407.04,758.23 L408.16,758.23 L409.29,758.24 L410.42,758.25 L411.54,758.25 L412.67,758.26 L413.80,758.27 L414.92,758.27 L416.05,758.28 L417.18,758.29 L418.30,758.30 L419.43,758.30 L420.56,758.31 L421.68,758.32 L422.81,758.32 L423.94,758.33 L425.06,758.34 L426.19,758.35 L427.32,758.35 L428.44,758.36 L429.57,758.37 L430.70,758.38 L431.82,758.39 L432.95,758.39 L434.08,758.40 L435.20,758.41 L436.33,758.42 L437.46,758.42 L438.58,758.43 L439.71,758.44 L440.84,758.45 L441.96,758.46 L443.09,758.46 L444.22,758.47 L445.34,758.48 L446.47,758.49 L447.60,758.50 L448.72,758.51 L449.85,758.51 L450.98,758.52 L452.10,758.53 L453.23,758.54 L454.36,758.55 L455.48,758.55 L456.61,758.56 L457.74,758.57 L458.86,758.58 L459.99,758.59 L461.12,758.60 L462.24,758.61 L463.37,758.61 L464.50,758.62 L465.62,758.63 L466.75,758.64 L467.88,758.65 L469.00,758.66 L470.13,758.67 L471.26,758.67 L472.38,758.68 L473.51,758.69 L474.64,758.70 L475.76,758.71 L476.89,758.72 L478.02,758.73 L479.14,758.74 L480.27,758.74 L481.40,758.75 L482.52,758.76 L483.65,758.77 L484.78,758.78 L485.90,758.79 L487.03,758.80 L488.16,758.81 L489.28,758.82 L490.41,758.82 L491.54,758.83 L492.66,758.84 L493.79,758.85 L494.92,758.86 L496.04,758.87 L497.17,758.88 L498.29,758.89 L499.42,758.90 L500.55,758.91 L501.67,758.91 L502.80,758.92 L503.93,758.93 L505.05,758.94 L506.18,758.95 L507.31,758.96 L508.43,758.97 L509.56,758.98 L510.69,758.99 L511.81,759.00 L512.94,759.01 L514.07,759.01 L515.19,759.02 L516.32,759.03 L517.45,759.04 L518.57,759.05 L519.70,759.06 L520.83,759.07 L521.95,759.08 L523.08,759.09 L524.21,759.10 L525.33,759.11 L526.46,759.12 L527.59,759.12 L528.71,759.13 L529.84,759.14 L530.97,759.15 L532.09,759.16 L533.22,759.17 L534.35,759.18 L535.47,759.19 L536.60,759.20 L537.73,759.21 L538.85,759.22 L539.98,759.23 L541.11,759.24 L542.23,759.24 L543.36,759.25 L544.49,759.26 L545.61,759.27 L546.74,759.28 L547.87,759.29 L548.99,759.30 L550.12,759.31 L551.25,759.32 L552.37,759.33 L553.50,759.34 L554.63,759.35 L555.75,759.36 L556.88,759.37 L558.01,759.38 L559.13,759.38 L560.26,759.39 L561.39,759.40 L562.51,759.41 L563.64,759.42 L564.77,759.43 L565.89,759.44 L567.02,759.45 L568.15,759.46 L569.27,759.47 L570.40,759.48 L571.53,759.49 L572.65,759.50 L573.78,759.51 L574.91,759.52 L576.03,759.52 L577.16,759.53 L578.29,759.54 L579.41,759.55 L580.54,759.56 L581.67,759.57 L582.79,759.58 L583.92,759.59 L585.05,759.60 L586.17,759.61 L587.30,759.62 L588.43,759.63 L589.55,759.64 L590.68,759.65 L591.81,759.66 L592.93,759.67 L594.06,759.67 L595.19,759.68 L596.31,759.69 L597.44,759.70 L598.57,759.71 L599.69,759.72 L600.82,759.73 L601.95,759.74 L603.07,759.75 L604.20,759.76 L605.33,759.77 L606.45,759.78 L607.58,759.79 L608.71,759.80 L609.83,759.81 L610.96,759.82 L612.09,759.83 L613.21,759.83 L614.34,759.84 L615.47,759.85 L616.59,759.86 L617.72,759.87 L618.85,759.88 L619.97,759.89 L621.10,759.90 L622.23,759.91 L623.35,759.92 L624.48,759.93 L625.61,759.94 L626.73,759.95 L627.86,759.96 L628.99,759.97 L630.11,759.98 L631.24,759.99 L632.37,760.00 L633.49,760.00 L634.62,760.01 L635.75,760.02 L636.87,760.03 L638.00,760.04" fill="none" stroke="#D95319" stroke-width="1.7" stroke-dasharray="6,2.6,1.6,2.6"/>
<circle cx="69.30" cy="644.30" r="3.3" fill="#0072BD"/>
<circle cx="98.30" cy="744.70" r="3.3" fill="#0072BD"/>
<circle cx="122.40" cy="785.70" r="3.3" fill="#0072BD"/>
<circle cx="151.40" cy="806.20" r="3.3" fill="#0072BD"/>
<circle cx="185.00" cy="814.50" r="3.3" fill="#0072BD"/>
<circle cx="233.00" cy="826.50" r="3.3" fill="#0072BD"/>
<circle cx="294.40" cy="824.20" r="3.3" fill="#0072BD"/>
<circle cx="360.00" cy="827.00" r="3.3" fill="#0072BD"/>
<circle cx="393.70" cy="829.20" r="3.3" fill="#0072BD"/>
<circle cx="437.20" cy="832.40" r="3.3" fill="#0072BD"/>
<circle cx="485.10" cy="834.30" r="3.3" fill="#0072BD"/>
<circle cx="533.40" cy="835.90" r="3.3" fill="#0072BD"/>
<circle cx="584.70" cy="828.50" r="3.3" fill="#0072BD"/>
<circle cx="629.80" cy="831.60" r="3.3" fill="#0072BD"/>
<circle cx="75.90" cy="855.60" r="3.3" fill="#D95319"/>
<circle cx="108.00" cy="813.20" r="3.3" fill="#D95319"/>
<circle cx="136.90" cy="783.60" r="3.3" fill="#D95319"/>
<circle cx="172.20" cy="767.90" r="3.3" fill="#D95319"/>
<circle cx="199.40" cy="762.70" r="3.3" fill="#D95319"/>
<circle cx="239.60" cy="764.80" r="3.3" fill="#D95319"/>
<circle cx="304.00" cy="757.50" r="3.3" fill="#D95319"/>
<circle cx="366.30" cy="755.90" r="3.3" fill="#D95319"/>
<circle cx="400.00" cy="762.80" r="3.3" fill="#D95319"/>
<circle cx="443.40" cy="758.00" r="3.3" fill="#D95319"/>
<circle cx="491.70" cy="761.80" r="3.3" fill="#D95319"/>
<circle cx="541.40" cy="757.50" r="3.3" fill="#D95319"/>
<circle cx="591.20" cy="760.10" r="3.3" fill="#D95319"/>
<circle cx="638.00" cy="758.10" r="3.3" fill="#D95319"/>
<line x1="243.7" y1="637.80" x2="243.7" y2="861.80" stroke="#000" stroke-width="1.5" stroke-dasharray="2.8,1.66" stroke-dashoffset="1.64"/>
<rect x="569.7" y="647.5" width="112.0" height="37.5" fill="#fff" stroke="#262626" stroke-width="1.5"/>
<circle cx="597.1" cy="658.6" r="3.2" fill="#0072BD"/>
<circle cx="597.1" cy="675.5" r="3.2" fill="#D95319"/>
<text x="676.3" y="663" font-size="12" text-anchor="end" font-family='"Liberation Sans", sans-serif' fill="#262626"><tspan font-family='"Liberation Serif", serif' font-style="italic">&#945;</tspan>-glucose</text>
<text x="676.3" y="679.8" font-size="12" text-anchor="end" font-family='"Liberation Sans", sans-serif' fill="#262626"><tspan font-family='"Liberation Serif", serif' font-style="italic">&#946;</tspan>-glucose</text>
<line x1="262" y1="691.4" x2="283.4" y2="691.4" stroke="#262626" stroke-width="2.6"/>
<path d="M249.7,691.4 L266.6,684.4 L263.8,691.4 L266.6,698.4 Z" fill="#262626"/>
<text x="288.40" y="697.70" font-size="18.00" text-anchor="start" font-family='"Liberation Serif", serif' font-weight="normal" font-style="normal" fill="#262626" >plateau</text>
<line x1="51.4" y1="893" x2="51.4" y2="914.3" stroke="#262626" stroke-width="2.7"/>
<path d="M51.4,880.8 L58.8,897.8 L51.4,895.8 L44.0,897.8 Z" fill="#262626"/>
<text x="54.10" y="927.30" font-size="18.00" text-anchor="middle" font-family='"Liberation Serif", serif' font-weight="normal" font-style="normal" fill="#262626" >dissolve</text>
<text x="374.00" y="892.50" font-size="13.20" text-anchor="middle" font-family='"Liberation Sans", sans-serif' font-weight="normal" font-style="normal" fill="#262626" >Time (min)</text>
<text x="0.00" y="0.00" font-size="13.20" text-anchor="middle" font-family='"Liberation Sans", sans-serif' font-weight="normal" font-style="normal" fill="#262626" transform="translate(24.4,750) rotate(-90)">Signal intensity</text>
<text x="0.00" y="0.00" font-size="34.00" text-anchor="start" font-family='"Liberation Serif", serif' font-weight="bold" font-style="normal" fill="#262626" transform="translate(1.0,651.9) scale(0.98,0.99)">d</text>
</svg></body></html>
